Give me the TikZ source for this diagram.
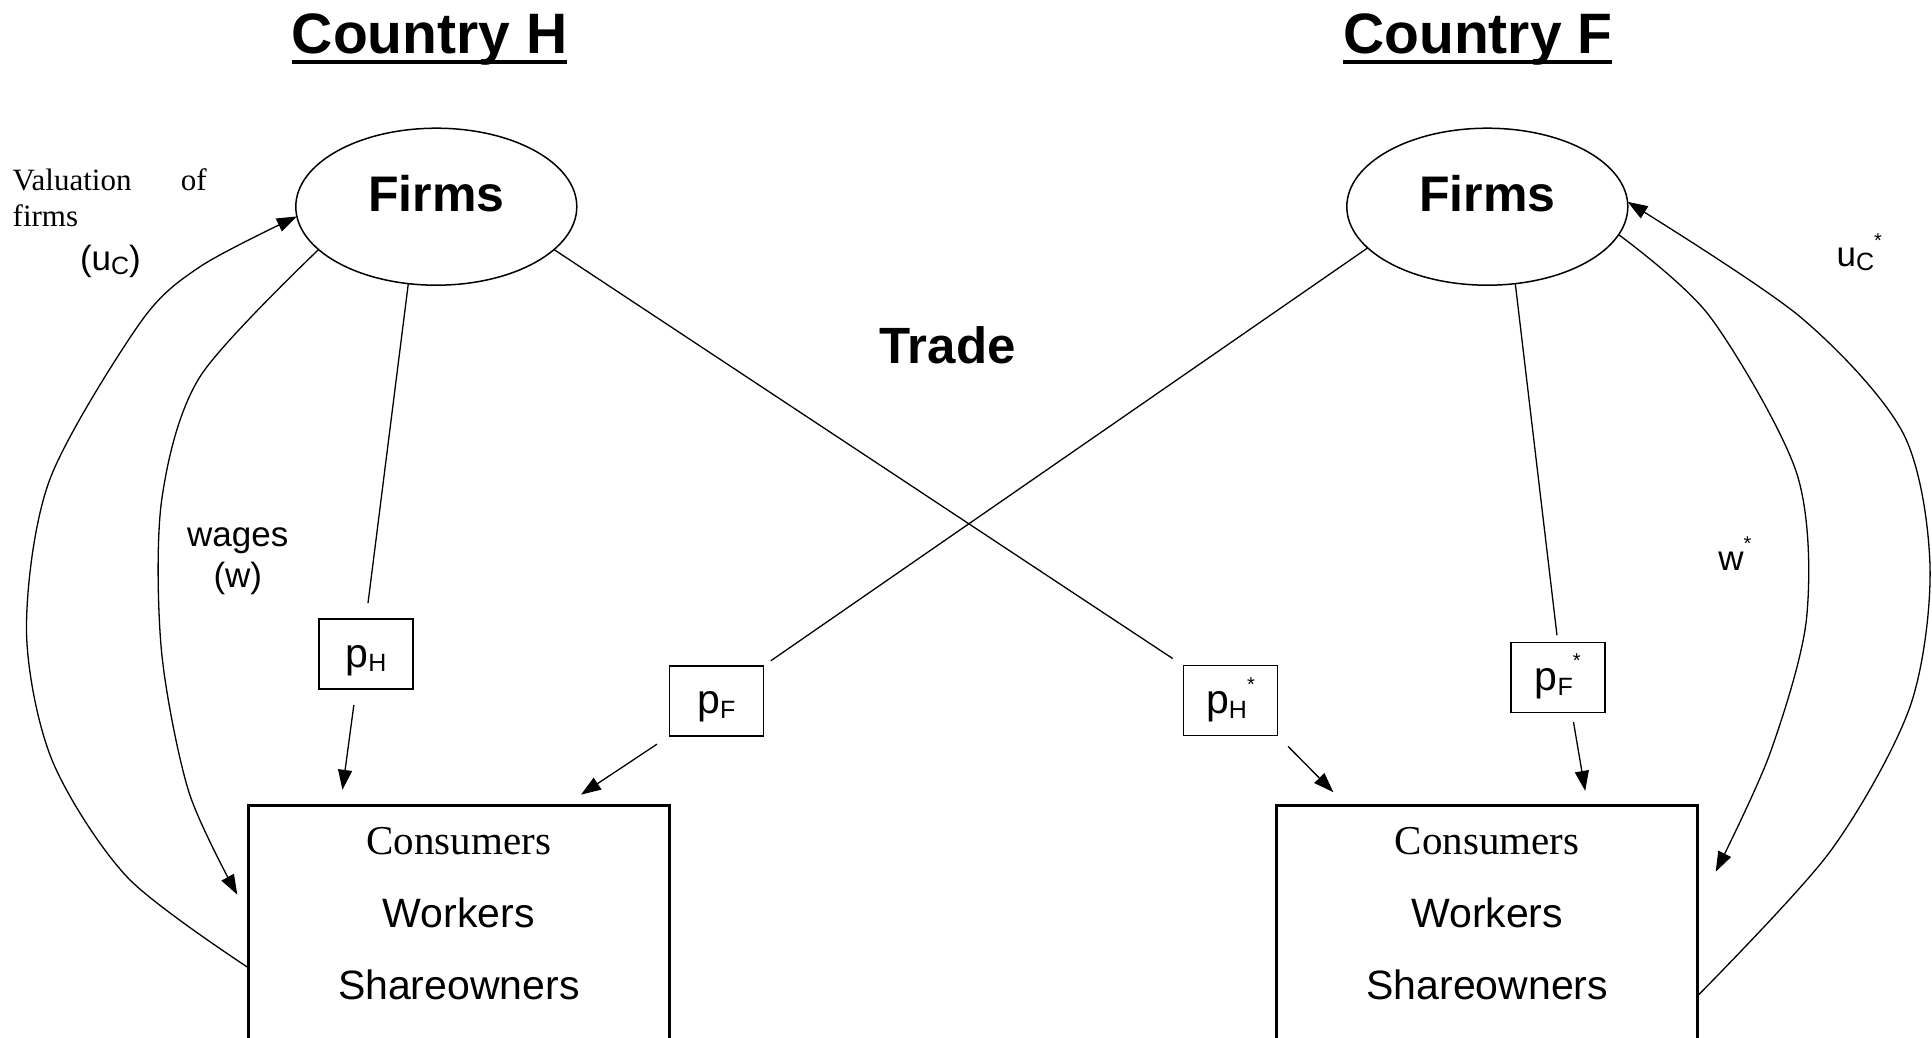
\documentclass[tikz,border=0pt]{standalone}
\usepackage{fontspec}
\setmainfont{Liberation Sans}
\newfontfamily\timesfont{Liberation Serif}
\usetikzlibrary{arrows.meta,shapes.geometric}

\newcommand\subtext[1]{\raisebox{-.12em}{\fontsize{25}{25}\selectfont #1}}
\newcommand\starmark{\raisebox{.55em}{\fontsize{20}{20}\selectfont *}}

\begin{document}
\begin{tikzpicture}
[
    x=1pt, y=-1pt,
    every node/.style={inner sep=0pt, outer sep=0pt},
    link/.style={line width=1.3pt},
    arr/.style={line width=1.3pt, -{Triangle[length=20pt,width=14pt]}},
    country/.style={anchor=base, font=\fontsize{57}{60}\selectfont\bfseries},
    firms/.style={draw, ellipse, line width=1.5pt, minimum width=281pt, minimum height=157pt,
        text height=36pt, text depth=26pt, font=\fontsize{50}{55}\selectfont\bfseries},
    price/.style={draw, line width=1.4pt, minimum width=94pt, minimum height=70pt,
        text height=35pt, text depth=9pt, font=\fontsize{41}{45}\selectfont},
    agents/.style={draw, line width=3pt, anchor=north west, minimum width=421pt, minimum height=320pt},
    role/.style={anchor=base, font=\fontsize{41}{45}\selectfont},
    flowtext/.style={anchor=base, font=\fontsize{35}{40}\selectfont},
    serifnote/.style={anchor=base west, font=\fontsize{31}{36}\selectfont\timesfont},
]
\useasboundingbox (0,0) rectangle (1932,1038);
\clip (0,0) rectangle (1932,1038);

\node [country] (titleH) at (429.7,53.3) {Country H};
\node [country] (titleF) at (1477.9,53.3) {Country F};
\draw [line width=4.3pt] ([yshift=-8.7pt]titleH.base west) -- ([yshift=-8.7pt]titleH.base east);
\draw [line width=4.3pt] ([yshift=-8.7pt]titleF.base west) -- ([yshift=-8.7pt]titleF.base east);

\node [firms] (firmsH) at (436.3,206.7) {Firms};
\node [firms] (firmsF) at (1487.3,206.7) {Firms};
\node [anchor=base, font=\fontsize{51}{55}\selectfont\bfseries] (trade) at (947.5,363.3) {Trade};

\node [price] (pH) at (366,654) {p\subtext{H}};
\node [price] (pF) at (716.4,700.9) {p\subtext{F}};
\node [price] (pHs) at (1230.5,700.7) {p\subtext{H}\starmark};
\node [price] (pFs) at (1557.8,677.2) {p\subtext{F}\starmark};

\node [agents] (consH) at (248.3,805.7) {};
\node [agents] (consF) at (1276.7,805.7) {};
\node [role, font=\fontsize{41}{45}\selectfont\timesfont] (consumersH) at ([yshift=-49pt]consH.north) {Consumers};
\node [role] (workersH) at ([yshift=-121.6pt]consH.north) {Workers};
\node [role] (ownersH) at ([yshift=-194pt]consH.north) {Shareowners};
\node [role, font=\fontsize{41}{45}\selectfont\timesfont] (consumersF) at ([yshift=-49pt]consF.north) {Consumers};
\node [role] (workersF) at ([yshift=-121.6pt]consF.north) {Workers};
\node [role] (ownersF) at ([yshift=-194pt]consF.north) {Shareowners};

\node [serifnote] (valuation) at (12.7,190) {\makebox[194pt][s]{Valuation of}};
\node [serifnote] (valfirms) at (12.7,226) {firms};
\node [flowtext, anchor=base west] (uc) at (80,270) {(u\subtext{C})};
\node [flowtext] (wages) at (237.8,546) {wages};
\node [flowtext] (wlabel) at (237.8,587) {(w)};
\node [flowtext, anchor=base west] (ucstar) at (1836.7,266.7) {u\subtext{C}\starmark};
\node [flowtext, anchor=base west] (wstar) at (1718.3,570) {w\starmark};

% goods markets
\draw [link, shorten >=16pt] (firmsH.-110) -- (pH.north);
\draw [arr, shorten <=16pt, shorten >=16pt] ([xshift=-10pt]pH.south) -- ([xshift=92pt]consH.north west);
\draw [link, shorten >=9pt] (firmsF.-161) -- (pF.north east);
\draw [arr, shorten <=15pt, shorten >=20pt] (pF.south west) -- ([xshift=-105pt]consH.north east);
\draw [link, shorten >=13pt] (firmsH.-20) -- (pHs.north west);
\draw [arr, shorten <=15pt, shorten >=19pt] (pHs.south east) -- ([xshift=70pt]consF.north west);
\draw [link, shorten >=7pt] (firmsF.-70) -- (pFs.north);
\draw [arr, shorten <=10pt, shorten >=15pt] ([xshift=14pt]pFs.south) -- ([xshift=311pt]consF.north west);

% wages and valuation
\draw [arr] plot [smooth] coordinates {(firmsH.-160) (200,376.7) (161.7,500) (161.4,650)
    (188.8,791.7) ([xshift=-11pt,yshift=-89pt]consH.north west)};
\draw [arr] plot [smooth] coordinates {([yshift=-162pt]consH.north west) (127.6,877.5) (52,760)
    (26.5,630) (49.6,480) (140,323) (200,266.7) (firmsH.184)};
\draw [arr] plot [smooth] coordinates {(firmsF.-12) (1710,316.7) (1796.7,473.3) (1806.7,616.7)
    (1770,753.3) ([xshift=18pt,yshift=-66pt]consF.north east)};
\draw [arr] plot [smooth] coordinates {([yshift=-190pt]consF.north east) (1830,851.7) (1910,706.7)
    (1930,566.7) (1903,433) (1800,316.7) (firmsF.2)};
\end{tikzpicture}
\end{document}
